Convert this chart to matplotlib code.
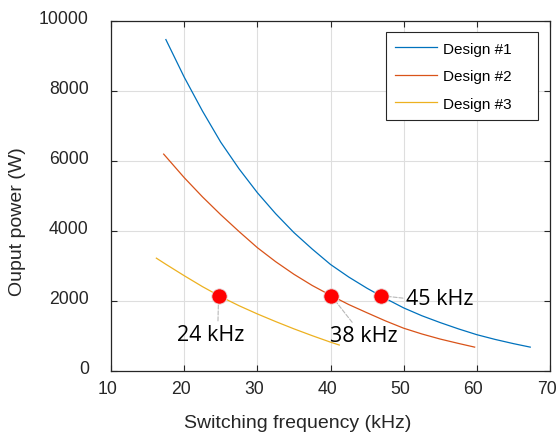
import matplotlib
matplotlib.use("Agg")
import matplotlib.pyplot as plt
import matplotlib.transforms as mtransforms

# values
freq_1 = [17.5, 20.0, 22.5, 25.0, 27.5, 30.0, 32.5, 35.0, 37.5, 40.0, 42.5, 45.0,
          47.5, 50.0, 52.5, 55.0, 57.5, 60.0, 62.5, 65.0, 67.3]
power_1 = [9470, 8400, 7430, 6540, 5780, 5100, 4500, 3960, 3490, 3050, 2690, 2370,
           2080, 1810, 1585, 1390, 1210, 1045, 910, 790, 690]

freq_2 = [17.2, 20.0, 22.5, 25.0, 27.5, 30.0, 32.5, 35.0, 37.5, 40.0, 42.5, 45.0,
          47.5, 50.0, 52.5, 55.0, 57.5, 59.7]
power_2 = [6200, 5530, 4980, 4470, 3990, 3530, 3130, 2770, 2450, 2170, 1905, 1670,
           1440, 1230, 1065, 920, 795, 690]

freq_3 = [16.2, 17.5, 20.0, 22.5, 25.0, 27.5, 30.0, 32.5, 35.0, 37.5, 40.0, 41.2]
power_3 = [3230, 3055, 2730, 2417, 2130, 1872, 1638, 1420, 1212, 1017, 832, 750]

series_labels = ["Design #1", "Design #2", "Design #3"]
colors = ["#0072BD", "#D95319", "#EDB120"]

# marked operating points and their labels
mark_freq = [24.7, 40.1, 46.85]
mark_power = [2160, 2160, 2160]
mark_text = ["24 kHz", "38 kHz", "45 kHz"]
text_pos = [(23.6, 1060), (44.55, 1020), (54.9, 2080)]
text_relpos = [(0.61, 1.0), (0.36, 1.0), (0.0, 0.5)]

ink = (0.15, 0.15, 0.15)
plt.rcParams["font.family"] = ["Liberation Sans", "DejaVu Sans"]

fig = plt.figure(figsize=(5.56, 4.39), dpi=100)
ax = fig.add_axes([111 / 556, 1 - 372.3 / 439, 439 / 556, 350.3 / 439])

for f, p, lab, c in zip([freq_1, freq_2, freq_3], [power_1, power_2, power_3], series_labels, colors):
    ax.plot(f, p, color=c, lw=0.9, label=lab + "    ")

ax.plot(mark_freq, mark_power, "o", color="red", markersize=11,
        markeredgecolor=(0.9, 0.85, 0.85), markeredgewidth=0.6, zorder=5)

for fx, py, txt, tp, rp in zip(mark_freq, mark_power, mark_text, text_pos, text_relpos):
    ax.annotate(txt, xy=(fx, py), xytext=tp, ha="center", va="center",
                fontsize=15.5, family="Open Sans", color="black",
                arrowprops=dict(arrowstyle="-", color=(0.72, 0.72, 0.72), lw=0.8,
                                linestyle="--", relpos=rp, shrinkA=0, shrinkB=0),
                zorder=4)

ax.set_xlim(10, 70)
ax.set_ylim(0, 10000)
ax.set_xticks(range(10, 71, 10))
ax.set_yticks(range(0, 10001, 2000))
ax.grid(True, color=(0.87, 0.87, 0.87), lw=0.8)
ax.set_axisbelow(True)

for s in ax.spines.values():
    s.set_color(ink)
    s.set_linewidth(0.9)

ax.tick_params(direction="in", length=4, width=0.8, color=ink, labelcolor=ink,
               labelsize=12.7, top=True, right=True)
ax.tick_params(axis="x", pad=6)
ax.tick_params(axis="y", pad=16)

off_y = mtransforms.ScaledTranslation(0, 0.045, fig.dpi_scale_trans)
for lab in ax.get_yticklabels():
    lab.set_transform(lab.get_transform() + off_y)
off_x = mtransforms.ScaledTranslation(-0.035, 0, fig.dpi_scale_trans)
for lab in ax.get_xticklabels():
    lab.set_transform(lab.get_transform() + off_x)

fig.text(297.2 / 556, 1 - 424 / 439, "Switching frequency (kHz)", ha="center", va="center",
         fontsize=14, color=ink)
fig.text(17.5 / 556, 1 - 221.3 / 439, "Ouput power (W)", ha="center", va="center",
         rotation=90, fontsize=14, color=ink)

leg = ax.legend(loc="upper right", bbox_to_anchor=(0.972, 0.968), borderaxespad=0,
                fontsize=11, fancybox=False, framealpha=1, edgecolor=ink,
                handlelength=2.75, handletextpad=0.35, labelspacing=0.88, borderpad=0.62)
leg.get_frame().set_linewidth(0.8)

fig.savefig("out.png", dpi=100)
